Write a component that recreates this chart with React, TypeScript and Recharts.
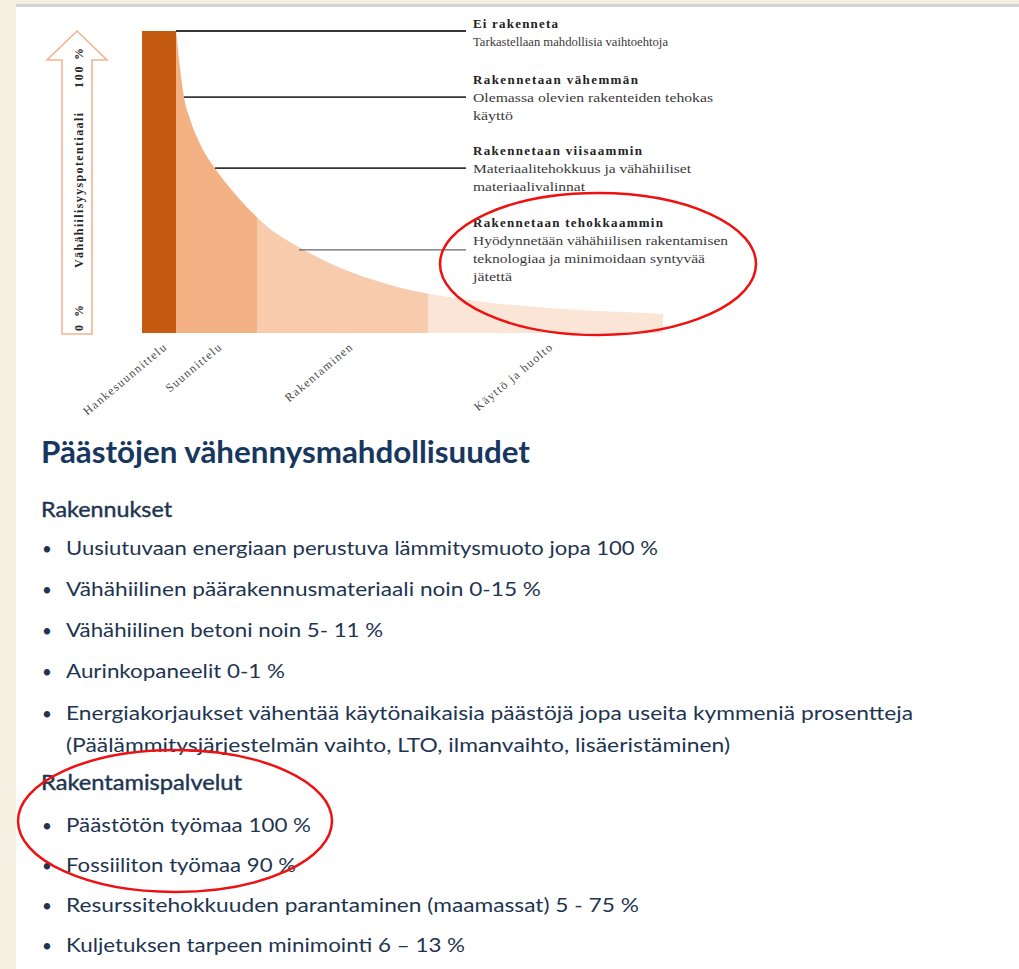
import React from 'react';
import { ComposedChart, Area, XAxis, YAxis, ReferenceLine } from 'recharts';

// ---- chart data (x = position along the life cycle, value = low-carbon potential %) ----
const stageLabels = ['Hankesuunnittelu', 'Suunnittelu', 'Rakentaminen', 'Käyttö ja huolto'];
const stageBounds = [0, 34, 115, 286, 521];
const stageColors = ['#c55a11', '#f4b183', '#f8cbad', '#fbe5d6'];
const barValue = 100;
const curveX = [34, 35, 36.5, 38, 40, 42, 48, 56, 64, 73, 88, 105, 115, 125, 141, 158, 175, 191, 208, 235, 258, 286, 341, 408, 475, 521];
const curveV = [100, 97, 92, 88, 82.5, 78.1, 70.9, 64.1, 58.9, 54.5, 48.0, 41.6, 38.3, 35.3, 31.5, 28.2, 25.2, 22.6, 20.3, 17.2, 15.0, 13.0, 10.3, 8.3, 7.0, 6.3];
const tickPos = [21, 76, 207, 407];

const leaderLevels = [100, 78.1, 54.6, 27.5];
const leaderStart = [34, 42, 73, 157];
const leaderEnd = 324;

const noteTitles = ['Ei rakenneta', 'Rakennetaan vähemmän', 'Rakennetaan viisaammin', 'Rakennetaan tehokkaammin'];
const noteLines = [
  ['Tarkastellaan mahdollisia vaihtoehtoja'],
  ['Olemassa olevien rakenteiden tehokas', 'käyttö'],
  ['Materiaalitehokkuus ja vähähiiliset', 'materiaalivalinnat'],
  ['Hyödynnetään vähähiilisen rakentamisen', 'teknologiaa ja minimoidaan syntyvää', 'jätettä'],
];

const heading = 'Päästöjen vähennysmahdollisuudet';
const section1 = 'Rakennukset';
const bullets1 = [
  'Uusiutuvaan energiaan perustuva lämmitysmuoto jopa 100 %',
  'Vähähiilinen päärakennusmateriaali noin 0-15 %',
  'Vähähiilinen betoni noin 5- 11 %',
  'Aurinkopaneelit 0-1 %',
  'Energiakorjaukset vähentää käytönaikaisia päästöjä jopa useita kymmeniä prosentteja',
];
const bullet1Cont = '(Päälämmitysjärjestelmän vaihto, LTO, ilmanvaihto, lisäeristäminen)';
const section2 = 'Rakentamispalvelut';
const bullets2 = [
  'Päästötön työmaa 100 %',
  'Fossiiliton työmaa 90 %',
  'Resurssitehokkuuden parantaminen (maamassat) 5 - 75 %',
  'Kuljetuksen tarpeen minimointi 6 – 13 %',
];

// ---- layout (not data) ----
const noteTitleY = [28, 84, 155, 227];
const noteTitleW = [85, 165, 169, 190];
const noteLineW = [[195], [240, 40], [218, 112], [255, 232, 39]];
const bullets1Y = [555, 596, 637, 678, 720];
const bullets1W = [592, 475, 317, 219, 847];
const bullets2Y = [832, 872, 912, 952];
const bullets2W = [245, 230, 573, 399];

// build chart rows
type Row = { x: number; [k: string]: number | null };
const rows: Row[] = [];
rows.push({ x: stageBounds[0], s0: barValue, s1: null, s2: null, s3: null });
rows.push({ x: stageBounds[1], s0: barValue, s1: null, s2: null, s3: null });
curveX.forEach((x, i) => {
  const r: Row = { x, s0: null, s1: null, s2: null, s3: null };
  for (let s = 1; s < 4; s++) {
    if (x >= stageBounds[s] && x <= stageBounds[s + 1]) r['s' + s] = curveV[i];
  }
  rows.push(r);
});

const StageTick = (props: any) => {
  const { x, y, payload } = props;
  const idx = tickPos.indexOf(payload.value);
  const tx = x + 5;
  const ty = y + 7;
  return (
    <text
      x={tx}
      y={ty}
      textAnchor="end"
      transform={`rotate(-40 ${tx} ${ty})`}
      fontFamily="'Liberation Serif', 'DejaVu Serif', serif"
      fontSize={12}
      letterSpacing={1.3}
      fill="#4a4a4a"
    >
      {stageLabels[idx]}
    </text>
  );
};

const bodyColor = '#1e3551';
const sans = "Lato, 'Open Sans', sans-serif";
const serif = "'Liberation Serif', 'DejaVu Serif', serif";

export default function App() {
  return (
    <div style={{ position: 'absolute', left: 0, top: 0, width: 1019, height: 969, background: '#f4f1e3', overflow: 'hidden' }}>
      <div style={{ position: 'absolute', left: 16, top: 4, width: 1003, height: 3, background: '#d4d4d4' }} />
      <div style={{ position: 'absolute', left: 16, top: 7, width: 1003, height: 962, background: '#ffffff' }} />
      <div style={{ position: 'absolute', left: 0, top: 0 }}>
        <ComposedChart width={1019} height={420} data={rows} margin={{ top: 31, right: 356, left: 142, bottom: 47 }}>
          <XAxis
            type="number"
            dataKey="x"
            domain={[stageBounds[0], stageBounds[4]]}
            ticks={tickPos}
            interval={0}
            tick={<StageTick />}
            axisLine={false}
            tickLine={false}
            height={40}
            allowDataOverflow
          />
          <YAxis type="number" domain={[0, 100]} hide width={0} />
          {[0, 1, 2, 3].map((s) => (
            <Area
              key={s}
              type={s === 0 ? 'linear' : 'monotone'}
              dataKey={'s' + s}
              stroke="none"
              fill={stageColors[s]}
              fillOpacity={1}
              isAnimationActive={false}
              connectNulls={false}
              dot={false}
              activeDot={false}
            />
          ))}
          {leaderLevels.map((v, i) => (
            <ReferenceLine
              key={i}
              segment={[{ x: leaderStart[i], y: v }, { x: leaderEnd, y: v }]}
              stroke={i === 3 ? '#666666' : '#353535'}
              strokeWidth={i === 0 ? 2 : i === 3 ? 1.3 : 1.6}
              ifOverflow="visible"
            />
          ))}
        </ComposedChart>
      </div>
      <svg width={1019} height={969} style={{ position: 'absolute', left: 0, top: 0, pointerEvents: 'none' }}>
        {/* y-axis arrow */}
        <path d="M62,334 L62,60 L47,60 L77,31 L107,60 L92,60 L92,334 Z" fill="#ffffff" stroke="#f2b48f" strokeWidth={1.6} />
        <g fontFamily={serif} fontWeight="bold" fontSize={12} fill="#262626">
          <text x={83} y={88} transform="rotate(-90 83 88)" textLength={40} lengthAdjust="spacing">100 %</text>
          <text x={83} y={268} transform="rotate(-90 83 268)" textLength={155} lengthAdjust="spacing">Vähähiilisyyspotentiaali</text>
          <text x={83} y={331} transform="rotate(-90 83 331)" textLength={26} lengthAdjust="spacing">0 %</text>
        </g>
        {/* notes */}
        {noteTitles.map((t, i) => (
          <g key={i} fontFamily={serif} fontSize={13}>
            <text x={473} y={noteTitleY[i]} fontWeight="bold" fill="#222" textLength={noteTitleW[i]} lengthAdjust="spacing">{t}</text>
            {noteLines[i].map((l, j) => (
              <text key={j} x={473} y={noteTitleY[i] + 18 * (j + 1)} fill="#3a3a3a" textLength={noteLineW[i][j]} lengthAdjust="spacingAndGlyphs">{l}</text>
            ))}
          </g>
        ))}
        {/* text section */}
        <g fontFamily={sans}>
          <text x={41} y={463} fontSize={30} fontWeight="bold" fill="#17375e" textLength={489} lengthAdjust="spacingAndGlyphs">{heading}</text>
          <text x={41} y={517} fontSize={21} fill={bodyColor} stroke={bodyColor} strokeWidth={0.4} textLength={131} lengthAdjust="spacingAndGlyphs">{section1}</text>
          {bullets1.map((b, i) => (
            <g key={i}>
              <text x={42} y={bullets1Y[i]} fontSize={17} fill={bodyColor}>•</text>
              <text x={66} y={bullets1Y[i]} fontSize={19.5} fill={bodyColor} textLength={bullets1W[i]} lengthAdjust="spacingAndGlyphs">{b}</text>
            </g>
          ))}
          <text x={66} y={752} fontSize={19.5} fill={bodyColor} textLength={664} lengthAdjust="spacingAndGlyphs">{bullet1Cont}</text>
          <text x={41} y={790} fontSize={21} fill={bodyColor} stroke={bodyColor} strokeWidth={0.4} textLength={201} lengthAdjust="spacingAndGlyphs">{section2}</text>
          {bullets2.map((b, i) => (
            <g key={i}>
              <text x={42} y={bullets2Y[i]} fontSize={17} fill={bodyColor}>•</text>
              <text x={66} y={bullets2Y[i]} fontSize={19.5} fill={bodyColor} textLength={bullets2W[i]} lengthAdjust="spacingAndGlyphs">{b}</text>
            </g>
          ))}
        </g>
        {/* highlight ellipses */}
        <ellipse cx={598} cy={264} rx={158} ry={71} fill="none" stroke="#ee1111" strokeWidth={2.5} />
        <ellipse cx={175} cy={821} rx={157} ry={71} fill="none" stroke="#ee1111" strokeWidth={2.5} />
      </svg>
    </div>
  );
}
